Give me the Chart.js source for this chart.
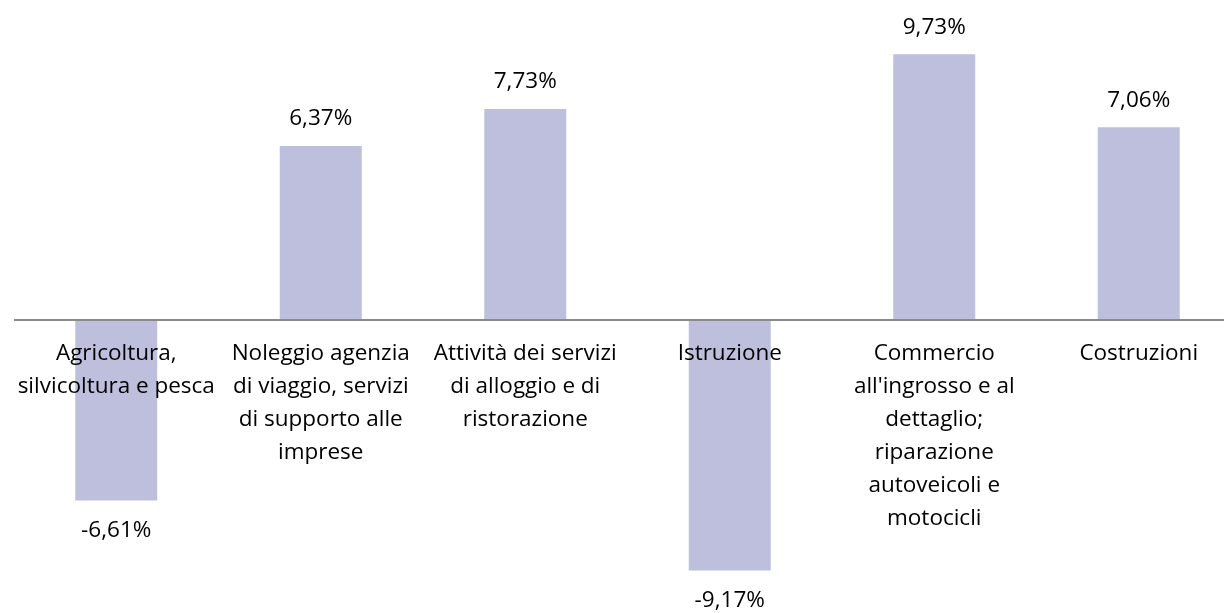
<!DOCTYPE html>
<html>
<head>
<meta charset="utf-8">
<script src="https://cdn.jsdelivr.net/npm/chart.js@4"></script>
<style>
  html, body { margin: 0; padding: 0; background: #fff; overflow: hidden; width: 1224px; height: 613px; }
  #wrap { position: absolute; left: 14px; top: 0; width: 1227px; height: 613px; }
</style>
</head>
<body>
<div id="wrap"><canvas id="c"></canvas></div>
<script>
const categories = [
  ["Agricoltura,", "silvicoltura e pesca"],
  ["Noleggio agenzia", "di viaggio, servizi", "di supporto alle", "imprese"],
  ["Attività dei servizi", "di alloggio e di", "ristorazione"],
  ["Istruzione"],
  ["Commercio", "all'ingrosso e al", "dettaglio;", "riparazione", "autoveicoli e", "motocicli"],
  ["Costruzioni"]
];
const values = [-6.61, 6.37, 7.73, -9.17, 9.73, 7.06];

const FONT = "'Open Sans', sans-serif";
const FSIZE = 22.5;

const valueLabels = {
  id: 'valueLabels',
  afterDatasetsDraw(chart) {
    const ctx = chart.ctx;
    const meta = chart.getDatasetMeta(0);
    ctx.save();
    ctx.font = FSIZE + "px " + FONT;
    ctx.fillStyle = "#000";
    ctx.textAlign = "center";
    ctx.textBaseline = "middle";
    meta.data.forEach((bar, i) => {
      const v = values[i];
      const txt = v.toFixed(2).replace('.', ',') + '%';
      const y = v >= 0 ? bar.y - 27 : bar.y + 30;
      ctx.fillText(txt, bar.x, y);
    });
    ctx.restore();
  }
};

new Chart(document.getElementById('c'), {
  type: 'bar',
  data: {
    labels: categories,
    datasets: [{
      data: values,
      backgroundColor: '#BEBFDC',
      borderWidth: 0,
      categoryPercentage: 1,
      barPercentage: 0.401
    }]
  },
  options: {
    responsive: true,
    maintainAspectRatio: false,
    animation: false,
    layout: { padding: 0 },
    plugins: { legend: { display: false }, tooltip: { enabled: false } },
    scales: {
      x: {
        position: { y: 0 },
        afterFit(scale) { scale.paddingLeft = 0; scale.paddingRight = 0; },
        grid: { display: false, drawTicks: false },
        border: { display: true, color: '#8a8a8a', width: 2, z: 1 },
        ticks: {
          z: 1,
          autoSkip: false,
          maxRotation: 0,
          minRotation: 0,
          padding: 17,
          color: '#000',
          font: { family: FONT, size: FSIZE, lineHeight: 33 / 22.5 }
        }
      },
      y: {
        display: false,
        min: -10.73,
        max: 11.72
      }
    }
  },
  plugins: [valueLabels]
});
</script>
</body>
</html>
